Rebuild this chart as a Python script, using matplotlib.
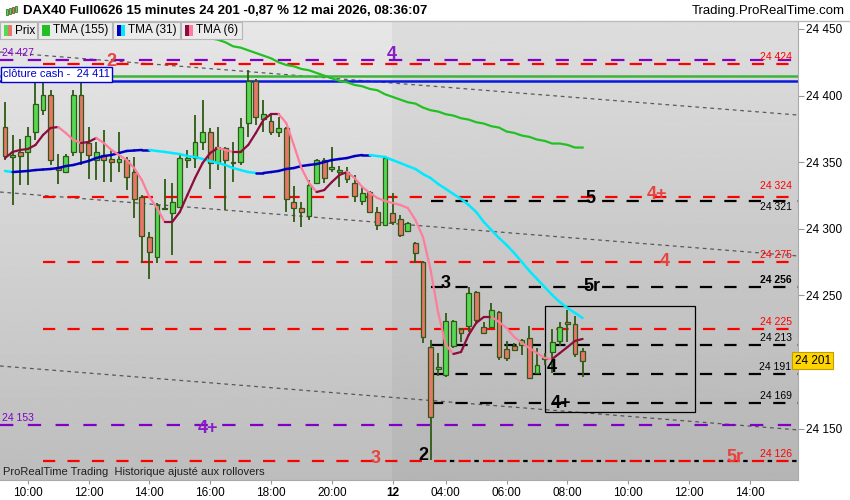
import matplotlib.pyplot as plt
import numpy as np
from matplotlib.patches import Rectangle

plt.rcParams['font.family'] = ['Liberation Sans', 'DejaVu Sans']

# 15 minute candles, bar index 0 = first visible bar (11 May)
opens = [24376.4, 24353.9, 24357.7, 24357.7, 24372.7, 24389.2, 24400.5, 24346.4, 24342.6, 24357.7,
         24400.5, 24364.4, 24351.7, 24355.4, 24352.4, 24350.2, 24351.7, 24342.6, 24323.9, 24293.8,
         24278.8, 24314.9, 24311.9, 24316.4, 24351.7, 24353.2, 24365.2, 24372.7, 24350.2, 24360.7,
         24349.4, 24350.2, 24379.4, 24411.0, 24382.4, 24380.9, 24372.7, 24375.7, 24320.1, 24315.6,
         24309.6, 24334.4, 24351.7, 24344.9, 24342.6, 24342.6, 24334.4, 24320.9, 24327.6, 24312.6,
         24302.9, 24311.9, 24307.4, 24298.3, 24289.3, 24275.1, 24211.3, 24194.7, 24190.2, 24212.0,
         24224.8, 24227.0, 24252.6, 24226.3, 24226.3, 24237.5, 24209.8, 24212.0, 24212.8, 24218.0,
         24191.7, 24202.0, 24207.5, 24215.8, 24230.0, 24228.5, 24208.3]
highs = [24395.2, 24370.4, 24367.4, 24376.4, 24409.5, 24410.2, 24404.2, 24356.2, 24356.2, 24404.2,
         24409.5, 24376.4, 24365.2, 24374.2, 24359.2, 24372.7, 24353.9, 24353.9, 24325.4, 24297.6,
         24319.4, 24337.4, 24334.4, 24355.4, 24359.2, 24385.4, 24396.7, 24375.7, 24376.4, 24361.4,
         24365.2, 24383.2, 24419.2, 24412.5, 24396.7, 24386.9, 24383.9, 24376.4, 24332.1, 24320.1,
         24336.6, 24352.4, 24353.2, 24361.4, 24347.1, 24346.4, 24340.4, 24331.4, 24328.4, 24316.4,
         24354.7, 24326.9, 24310.4, 24305.1, 24290.0, 24276.0, 24216.5, 24206.8, 24236.8, 24231.5,
         24225.5, 24256.3, 24253.4, 24230.0, 24244.3, 24238.2, 24215.8, 24214.3, 24217.0, 24227.0,
         24210.5, 24206.8, 24224.8, 24230.0, 24239.0, 24234.5, 24210.5]
lows = [24351.7, 24317.9, 24332.9, 24332.9, 24366.7, 24385.4, 24347.9, 24333.6, 24342.0, 24355.0,
        24347.9, 24337.4, 24336.6, 24335.1, 24335.1, 24342.6, 24329.1, 24308.1, 24274.3, 24262.3,
        24274.3, 24314.9, 24280.3, 24315.6, 24345.6, 24345.6, 24359.0, 24329.9, 24344.1, 24314.1,
        24335.1, 24348.0, 24368.9, 24377.9, 24372.7, 24370.4, 24368.9, 24312.6, 24305.1, 24301.4,
        24306.6, 24333.6, 24334.4, 24342.6, 24331.4, 24334.4, 24320.1, 24317.9, 24311.9, 24299.1,
        24302.9, 24302.9, 24293.8, 24297.6, 24274.3, 24214.3, 24126.4, 24189.5, 24188.7, 24210.5,
        24215.0, 24222.5, 24229.3, 24221.0, 24225.5, 24201.5, 24200.8, 24208.3, 24205.3, 24187.5,
        24191.0, 24197.7, 24191.7, 24212.0, 24215.0, 24203.8, 24188.7]
closes = [24354.7, 24355.4, 24354.7, 24369.7, 24393.7, 24400.5, 24351.7, 24344.1, 24354.7, 24400.5,
          24357.7, 24355.4, 24357.7, 24351.7, 24350.2, 24352.4, 24338.9, 24322.4, 24294.6, 24282.6,
          24317.9, 24315.6, 24320.1, 24353.2, 24353.2, 24365.2, 24372.7, 24349.4, 24361.4, 24351.7,
          24350.2, 24376.4, 24411.0, 24383.9, 24386.2, 24372.7, 24375.7, 24322.4, 24315.6, 24312.6,
          24332.9, 24351.7, 24338.1, 24346.4, 24344.1, 24337.4, 24324.6, 24326.9, 24312.6, 24302.9,
          24353.2, 24305.1, 24295.3, 24304.4, 24281.8, 24218.8, 24158.7, 24196.2, 24230.8, 24230.8,
          24221.8, 24251.8, 24231.5, 24221.8, 24239.0, 24203.8, 24203.0, 24209.0, 24216.5, 24188.0,
          24197.7, 24203.0, 24215.0, 24226.3, 24228.5, 24206.0, 24201.0]

nan = np.nan
tma155 = [nan] * 20 + [
    24458, 24456, 24454, 24452, 24449, 24447, 24445, 24443, 24442, 24440,
    24437, 24436, 24434, 24432, 24430, 24428, 24425, 24423, 24422, 24420,
    24419, 24417, 24415, 24413, 24411, 24410, 24408, 24407, 24405, 24404,
    24401, 24399, 24397, 24395, 24394, 24391, 24389, 24388, 24386, 24385,
    24383, 24382, 24380, 24379, 24377, 24376, 24373, 24372, 24370, 24369,
    24367, 24366, 24364, 24364, 24363, 24361, 24361]
tma31 = [24343.4, 24342.6, 24343.0, 24343.4, 24344.1, 24344.5, 24344.9, 24345.6, 24347.1, 24347.9,
         24349.4, 24350.9, 24353.1, 24354.6, 24355.4, 24356.9, 24358.4, 24358.8, 24359.2, 24359.2,
         24358.4, 24357.7, 24356.9, 24356.1, 24354.6, 24353.9, 24352.4, 24350.9, 24349.4, 24347.9,
         24345.6, 24344.1, 24342.6, 24341.9, 24341.9, 24342.6, 24343.4, 24344.9, 24345.6, 24347.1,
         24347.9, 24348.6, 24350.1, 24351.6, 24352.4, 24353.1, 24354.6, 24355.4, 24355.4, 24354.6,
         24353.9, 24351.6, 24349.4, 24347.1, 24344.9, 24341.1, 24338.1, 24333.6, 24329.9, 24326.1,
         24322.4, 24317.9, 24312.6, 24305.1, 24299.1, 24293.1, 24287.8, 24281.8, 24275.1, 24268.3,
         24262.3, 24256.3, 24250.3, 24245.0, 24240.5, 24236.8, 24233.0]
tma6 = [24353.1, 24357.7, 24359.2, 24359.9, 24362.9, 24370.4, 24375.7, 24376.4, 24371.9, 24366.7,
        24364.4, 24365.2, 24368.2, 24364.4, 24359.2, 24355.4, 24351.6, 24345.6, 24336.6, 24323.9,
        24315.6, 24305.1, 24305.1, 24312.6, 24325.4, 24338.1, 24349.4, 24356.9, 24360.7, 24359.2,
        24357.7, 24357.7, 24362.9, 24371.9, 24381.7, 24386.2, 24386.2, 24379.4, 24362.9, 24345.6,
        24334.4, 24327.6, 24329.1, 24335.1, 24340.4, 24342.6, 24338.1, 24331.4, 24326.9, 24323.1,
        24320.9, 24319.4, 24317.9, 24315.6, 24306.6, 24293.8, 24269.1, 24236.8, 24212.7, 24206.0,
        24207.5, 24220.3, 24229.3, 24233.8, 24233.8, 24230.0, 24225.5, 24218.8, 24214.3, 24210.5,
        24206.7, 24203.0, 24202.2, 24206.7, 24211.2, 24215.8, 24217.3]

# x axis labels (bar index of each label)
tick_pos = [3, 11, 19, 27, 35, 43, 51, 58, 66, 74, 82, 90, 98]
tick_labels = ['10:00', '12:00', '14:00', '16:00', '18:00', '20:00', '12',
               '04:00', '06:00', '08:00', '10:00', '12:00', '14:00']
price_ticks = [24150, 24250, 24300, 24350, 24400, 24450]

# horizontal levels drawn on the chart
red_levels = [24424, 24324, 24275, 24225, 24126]
red_level_labels = ['24 424', '24 324', '24 275', '24 225', '24 126']
black_levels = [24321, 24256, 24213, 24191, 24169]
black_level_labels = ['24 321', '24 256', '24 213', '24 191', '24 169']
purple_levels = [24427, 24153]
purple_level_labels = ['24 427', '24 153']
cash_close = 24411
green_level = 24415
last_price = 24201

# trend lines: (x0, x1), (y0, y1)
trend_x = [-0.66, 104.34]
trend_lines = [[24432.7, 24385.4], [24327.6, 24279.6], [24197.0, 24149.0]]

# zone box
box_x = [71.05, 90.8]
box_y = [24162.5, 24242.0]

# wave labels: text, bar, price, color
wave_labels = [
    ('4', 50.9, 24430.5, '#8a1cc8'),
    ('2', 14.0, 24425.5, '#e8423c'),
    ('4+', 85.8, 24325.4, '#e8423c'),
    ('5', 77.0, 24322.4, 'black'),
    ('4', 86.8, 24275.8, '#e8423c'),
    ('3', 58.0, 24259.3, 'black'),
    ('5r', 77.2, 24257.0, 'black'),
    ('4', 72.0, 24196.2, 'black'),
    ('4+', 73.2, 24169.2, 'black'),
    ('4+', 26.7, 24150.4, '#8a1cc8'),
    ('3', 48.8, 24127.9, '#e8423c'),
    ('2', 55.0, 24130.0, 'black'),
    ('5r', 96.0, 24128.0, '#e8423c'),
]

green_fill = '#55d955'
red_fill = '#e8766a'
edge = '#2e5a14'

xmin, xmax = -0.66, 104.34
ymin, ymax = 24111.4, 24456.0

fig = plt.figure(figsize=(8.5, 5), dpi=100)
fig.patch.set_facecolor('white')
ax = fig.add_axes([0, 20 / 500, 798 / 850, 459 / 500])

# background gradient + darker new session
grad = np.linspace(0.74, 0.905, 256).reshape(-1, 1)
ax.imshow(grad, extent=[xmin, xmax, ymin, ymax], origin='lower', aspect='auto',
          cmap='gray', vmin=0, vmax=1, zorder=0)
ax.axvspan(50.9, xmax, color='black', alpha=0.04, lw=0, zorder=0.5)

# trend lines
for tl in trend_lines:
    ax.plot(trend_x, tl, color='#444444', lw=0.9, ls=(0, (3, 3)), alpha=0.85, zorder=2)

# horizontal levels
dash = (0, (5.5, 5.5))
ax.plot([xmin, xmax], [cash_close, cash_close], color='#0818e0', lw=1.8, zorder=2)
ax.plot([xmin, xmax], [green_level, green_level], color='#3cb43c', lw=1.8, zorder=2)
for lv in black_levels:
    ax.plot([56, xmax], [lv, lv], color='black', lw=1.6, ls=dash, zorder=2)
ax.plot([56, xmax], [red_levels[4], red_levels[4]], color='black', lw=1.6,
        ls=(2.5, (2, 9)), zorder=2)
for lv in red_levels:
    ax.plot([5, xmax], [lv, lv], color='#ff0000', lw=1.6, ls=dash, zorder=2.1)
for lv in purple_levels:
    ax.plot([xmin, xmax], [lv, lv], color='#8000c8', lw=1.6, ls=(0, (6, 6.5)), zorder=2)

# right side level values
for lv, lab in zip(red_levels, red_level_labels):
    dy = 4.5 if lv == 24324 else 1.5
    ax.text(103.5, lv + dy, lab, color='#ff0000', fontsize=7.5, ha='right', va='bottom', zorder=6)
for lv, lab in zip(black_levels, black_level_labels):
    weight = 'bold' if lv == 24256 else 'normal'
    dy = -1.0 if lv == 24321 else 1.5
    va = 'top' if lv == 24321 else 'bottom'
    ax.text(103.5, lv + dy, lab, color='black', fontsize=7.5, ha='right', va=va,
            fontweight=weight, zorder=6)
for lv, lab in zip(purple_levels, purple_level_labels):
    ax.text(-0.35, lv + 1.5, lab, color='#8000c8', fontsize=7.5, ha='left', va='bottom', zorder=6)

# wave labels
for txt, bx, py, col in wave_labels:
    ax.text(bx, py, txt, color=col, fontsize=13, fontweight='bold', ha='center', va='center', zorder=6)

# zone box
ax.add_patch(Rectangle((box_x[0], box_y[0]), box_x[1] - box_x[0], box_y[1] - box_y[0],
                       fill=False, ec='black', lw=0.9, zorder=3))

# candles
for i in range(len(opens)):
    o, h, l, c = opens[i], highs[i], lows[i], closes[i]
    col = green_fill if c >= o else red_fill
    ax.vlines(i, l, h, color=edge, lw=1.3, zorder=4)
    body = max(abs(c - o), 0.8)
    ax.bar(i, body, bottom=min(o, c), width=0.62, color=col, edgecolor=edge, lw=0.9, zorder=4.1)

# moving averages, colour by slope
xs = np.arange(len(tma6))
ax.plot(xs, tma155, color='#22c022', lw=1.6, zorder=5)
for i in range(1, len(tma31)):
    col = '#0000c0' if tma31[i] >= tma31[i - 1] else '#00eaff'
    ax.plot(xs[i - 1:i + 1], tma31[i - 1:i + 1], color=col, lw=1.8, zorder=5,
            solid_capstyle='round')
for i in range(1, len(tma6)):
    col = '#8c0c3c' if tma6[i] >= tma6[i - 1] else '#ff7c9c'
    ax.plot(xs[i - 1:i + 1], tma6[i - 1:i + 1], color=col, lw=1.6, zorder=5,
            solid_capstyle='round')

# cash close label box
ax.text(0.004, 24416.0, 'clôture cash -  24 411', transform=ax.get_yaxis_transform(),
        color='#0000d0', fontsize=8, ha='left', va='center', zorder=7,
        bbox=dict(boxstyle='square,pad=0.2', fc='white', ec='#0000d0', lw=1))

ax.text(0.004, 0.006, 'ProRealTime Trading  Historique ajusté aux rollovers',
        transform=ax.transAxes, fontsize=8, color='#202020', ha='left', va='bottom', zorder=7)

ax.set_xlim(xmin, xmax)
ax.set_ylim(ymin, ymax)

ax.yaxis.tick_right()
ax.set_yticks(price_ticks)
ax.set_yticklabels([f'{v:,}'.replace(',', ' ') for v in price_ticks])
ax.tick_params(axis='y', labelsize=8.5, length=4, color='#999999', pad=2)
ax.set_xticks(tick_pos)
ax.set_xticklabels(tick_labels)
ax.tick_params(axis='x', labelsize=8.5, length=3, color='#999999', pad=2)
ax.get_xticklabels()[6].set_fontweight('bold')
for s in ['top', 'left']:
    ax.spines[s].set_visible(False)
ax.spines['right'].set_color('#aaaaaa')
ax.spines['bottom'].set_color('#aaaaaa')

# last price tag
ax.text(0.996, last_price, '24 201', transform=ax.get_yaxis_transform(), fontsize=8.5,
        ha='left', va='center', clip_on=False, zorder=8,
        bbox=dict(boxstyle='square,pad=0.2', fc='#ffd400', ec='#c0a000', lw=0.8))

# header
fig.add_artist(Rectangle((0, 1 - 21 / 500), 1, 21 / 500, transform=fig.transFigure,
                         fc='white', ec='none', zorder=9))
fig.add_artist(plt.Line2D([0, 1], [1 - 21 / 500] * 2, transform=fig.transFigure,
                          color='#bbbbbb', lw=1, zorder=10))
for j, col in enumerate([green_fill, green_fill, red_fill, green_fill]):
    cx = (6 + j * 3) / 850
    fig.add_artist(Rectangle((cx, 1 - (15 - j) / 500), 2 / 850, 6 / 500, transform=fig.transFigure,
                             fc=col, ec=edge, lw=0.5, zorder=10))
fig.text(23 / 850, 1 - 11 / 500, 'DAX40 Full0626 15 minutes 24 201 -0,87 % 12 mai 2026, 08:36:07',
         fontsize=9.5, fontweight='bold', va='center', ha='left', zorder=10)
fig.text(845 / 850, 1 - 11 / 500, 'Trading.ProRealTime.com', fontsize=9.5, va='center',
         ha='right', zorder=10)

# legend row
legend_items = [
    (0, 37, 'Prix', green_fill, red_fill),
    (38, 112, 'TMA (155)', '#22c022', '#22c022'),
    (113, 180, 'TMA (31)', '#0000c0', '#00eaff'),
    (181, 242, 'TMA (6)', '#8c0c3c', '#ff7c9c'),
]
for x0, x1, lab, c1, c2 in legend_items:
    fig.add_artist(Rectangle((x0 / 850, 1 - 39 / 500), (x1 - x0) / 850, 17 / 500,
                             transform=fig.transFigure, fc='#ebebeb', ec='#b5b5b5', lw=0.8, zorder=9))
    fig.add_artist(Rectangle(((x0 + 4) / 850, 1 - 36 / 500), 4 / 850, 11 / 500,
                             transform=fig.transFigure, fc=c1, ec='none', zorder=10))
    fig.add_artist(Rectangle(((x0 + 8) / 850, 1 - 36 / 500), 4 / 850, 11 / 500,
                             transform=fig.transFigure, fc=c2, ec='none', zorder=10))
    fig.text((x0 + 15) / 850, 1 - 30.5 / 500, lab, fontsize=8.5, va='center', ha='left', zorder=10)

fig.savefig('out.png', dpi=100)
